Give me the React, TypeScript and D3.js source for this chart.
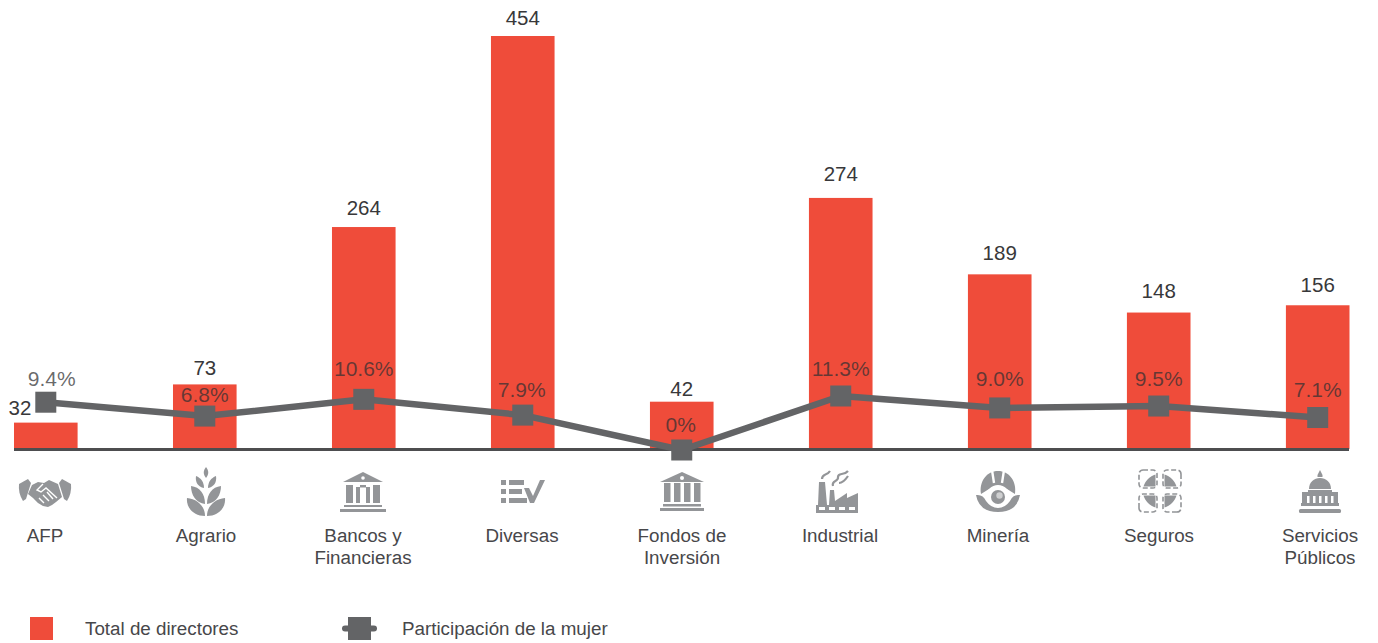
import React from 'react'
import * as d3 from 'd3'

const categories = ['AFP', 'Agrario', 'Bancos y Financieras', 'Diversas', 'Fondos de Inversión', 'Industrial', 'Minería', 'Seguros', 'Servicios Públicos']
const categoryLines = [['AFP'], ['Agrario'], ['Bancos y', 'Financieras'], ['Diversas'], ['Fondos de', 'Inversión'], ['Industrial'], ['Minería'], ['Seguros'], ['Servicios', 'Públicos']]

// printed labels
const directorLabels = [32, 73, 264, 454, 42, 274, 189, 148, 156]
const shareLabels = ['9.4%', '6.8%', '10.6%', '7.9%', '0%', '11.3%', '9.0%', '9.5%', '7.1%']
// what the picture actually draws, read against the tallest bar / the 0% point
const barLevels = [29, 71, 244, 454, 52, 276, 192, 150, 158]
const lineLevels = [10.0, 7.1, 10.6, 7.3, 0, 11.3, 8.8, 9.2, 6.8]

const RED = '#ef4c3a'
const GREY = '#636466'
const ICON = '#939598'
const TEXT = '#47474a'
const FONT = '"Liberation Sans", Arial, sans-serif'

const x = d3.scaleBand<string>().domain(categories).range([14, 1349.5]).paddingInner(0.6).paddingOuter(0)
const yBar = d3.scaleLinear().domain([0, 454]).range([449, 36])
const yLine = d3.scaleLinear().domain([0, 11.3]).range([450, 396])

const linePath = d3.line<number>()
  .x((_, i) => x(categories[i])! + x.bandwidth() / 2)
  .y(d => yLine(d))

// small layout nudges for labels, same order as categories
const valueDy = [0, -9, -12, -11, -6, -17, -14, -15, -13]
const shareDx = [6, 0, 0, -1, -1, 0, 0, 0, 0]
const shareDy = [-16, -14, -23, -18, -18, -20, -22, -20, -21]
const labelCx = [45, 206, 363, 522, 682, 840, 998, 1159, 1320]
const iconCx = [45, 206, 363, 522, 682, 837, 998, 1160, 1320]

const Handshake = () => (
  <g fill={ICON}>
    <path d="M-26,-7 L-17,-12 L-14,-8 L-19,8 L-22,10 Q-27,2 -26,-7Z" />
    <path d="M26,-7 L17,-12 L14,-8 L19,8 L22,10 Q27,2 26,-7Z" />
    <path d="M-13,-6 L-7,-9 L-1,-8 L4,-11 L13,-7 L17,6 L11,11 L7,14 L3,16 L-2,15 L-7,12 L-12,7 L-17,3Z" />
    <path d="M-2,-7 L-8,-1 L-4,1 L1,-3 L12,7 M-6,7 L-1,12 M-2,4 L4,10 M2,1 L8,8" fill="none" stroke="#fff" strokeWidth={1.4} />
  </g>
)

const Wheat = () => {
  const half = (
    <g>
      <path d="M-1,25 C-13,25 -20,16 -19,7 C-9,8 -1,15 -1,25Z" />
      <path d="M-1,13 C-10,12 -15,4 -15,-5 C-6,-4 -1,3 -1,13Z" />
      <path d="M-2,-3 C-8,-4 -11,-9 -10,-15 C-5,-13 -2,-9 -2,-3Z" />
    </g>
  )
  return (
    <g fill={ICON}>
      {half}
      <g transform="scale(-1,1)">{half}</g>
      <path d="M0,-24 C3,-20 3,-17 0,-13 C-3,-17 -3,-20 0,-24Z" />
    </g>
  )
}

const Bank = () => (
  <g fill={ICON}>
    <path d="M0,-19 L20,-9 L-20,-9Z" />
    <circle cy={-13} r={1.8} fill="#fff" />
    <rect x={-17} y={-6} width={7} height={18} />
    <rect x={-7} y={-4} width={4} height={16} />
    <rect x={-3} y={-6} width={6} height={2.5} />
    <rect x={3} y={-4} width={4} height={16} />
    <rect x={10} y={-6} width={7} height={18} />
    <rect x={-19} y={14} width={38} height={2} />
    <rect x={-23} y={18} width={46} height={3} />
  </g>
)

const Fund = () => (
  <g fill={ICON}>
    <path d="M0,-19 L22,-9 L-22,-9Z" />
    <circle cy={-13} r={2} fill="#fff" />
    {[-18, -8, 2, 12].map(c => <rect key={c} x={c} y={-8} width={6.5} height={19} />)}
    <rect x={-19} y={13} width={38} height={2.5} />
    <rect x={-22} y={17} width={44} height={3} />
  </g>
)

const ListCheck = () => (
  <g fill={ICON}>
    {[-11, -2, 7].map((r, i) => (
      <g key={r}>
        <rect x={-21} y={r} width={5} height={5} />
        <rect x={-13} y={r} width={i === 1 ? 13 : i === 0 ? 15 : 18} height={5} />
      </g>
    ))}
    <path d="M2,-3 L7,-3 L11,5 L18,-11 L23,-11 L12,12 L8,12Z" />
  </g>
)

const Factory = () => (
  <g fill={ICON}>
    <path d="M-21,14 L-19,14 L-18,-9 L-12,-9 L-10,14 L-8,14 L-7,-1 L-3,-1 L-2,10 L10,2 L10,7 L21,2 L21,22 L-21,22Z" />
    {[-18, -8, 2, 12].map(c => <rect key={c} x={c} y={16} width={6} height={3} fill="#fff" />)}
    <path d="M-15,-12 C-15,-18 -10,-15 -7,-20 M-4,-5 C-6,-11 2,-9 1,-14 C1,-19 7,-15 11,-20 M2,-8 C6,-8 9,-12 11,-15" fill="none" stroke={ICON} strokeWidth={2.2} />
  </g>
)

const Helmet = () => (
  <g fill={ICON}>
    <path d="M-17,3 C-19,-10 -11,-20 0,-20 C11,-20 19,-10 17,3 L9,-2 L-9,-2Z" />
    <path d="M-6,-21 L-4,-8 M6,-21 L4,-8" stroke="#fff" strokeWidth={2.4} />
    <circle cy={6} r={12} fill="#fff" />
    <circle cy={6} r={7} />
    <circle cx={1.5} cy={4.5} r={3.2} fill="#fff" opacity={0.55} />
    <path d="M-22,4 Q-15,3 -12,10 Q-7,17 0,17 Q7,17 12,10 Q15,3 22,4 Q19,21 0,21 Q-19,21 -22,4Z" />
  </g>
)

const Shield = () => (
  <g>
    {[0, 90, 180, 270].map(a => (
      <g key={a} transform={`rotate(${a})`}>
        <rect x={-21} y={-21} width={18} height={18} rx={4} fill="none" stroke={ICON} strokeWidth={1.6} strokeDasharray="5 2.5" />
        <path d="M-16.5,-4.5 C-15,-10 -10,-15 -4.5,-16.5 L-4.5,-4.5Z" fill={ICON} />
      </g>
    ))}
  </g>
)

const Capitol = () => (
  <g fill={ICON}>
    <path d="M0,-21 L2.5,-16 L2.5,-14 L-2.5,-14 L-2.5,-16Z" />
    <path d="M-11,-2 C-11,-9 -6,-13 0,-13 C6,-13 11,-9 11,-2Z" />
    <rect x={-12} y={-1} width={24} height={2} />
    <rect x={-18} y={1} width={36} height={14} />
    {[-13, -7, -1, 5, 11].map(c => <rect key={c} x={c} y={5} width={2.5} height={7} fill="#fff" />)}
    <rect x={-19} y={12} width={38} height={3} />
    <rect x={-21} y={18} width={42} height={4} rx={1.5} />
  </g>
)

const icons = [Handshake, Wheat, Bank, ListCheck, Fund, Factory, Helmet, Shield, Capitol]

export default function App() {
  return (
    <svg width={1378} height={643} style={{ position: 'absolute', left: 0, top: 0, display: 'block' }} fontFamily={FONT}>
      <rect width={1378} height={643} fill="#fff" />

      {barLevels.map((v, i) => (
        <rect key={categories[i]} x={x(categories[i])} y={yBar(v)} width={x.bandwidth()} height={yBar(0) - yBar(v)} fill={RED} />
      ))}

      <line x1={14} x2={1349} y1={449.5} y2={449.5} stroke="#4d4d4f" strokeWidth={3} />

      {/* total directors */}
      {directorLabels.map((v, i) => {
        const cx = x(categories[i])! + x.bandwidth() / 2
        const first = i === 0
        return (
          <text key={v} x={first ? 20 : cx} y={first ? 415 : yBar(barLevels[i]) + valueDy[i]} textAnchor="middle" fontSize={20.5} fill="#38383a">
            {v}
          </text>
        )
      })}

      <path d={linePath(lineLevels)!} fill="none" stroke={GREY} strokeWidth={6.5} strokeLinejoin="round" />
      {lineLevels.map((v, i) => (
        <rect key={categories[i]} x={x(categories[i])! + x.bandwidth() / 2 - 10.5} y={yLine(v) - 10.5} width={21} height={21} fill={GREY} />
      ))}

      {shareLabels.map((s, i) => (
        <text
          key={s}
          x={x(categories[i])! + x.bandwidth() / 2 + shareDx[i]}
          y={yLine(lineLevels[i]) + shareDy[i]}
          textAnchor="middle"
          fontSize={21}
          fill="#303032"
          fillOpacity={0.72}
        >
          {s}
        </text>
      ))}

      {icons.map((Icon, i) => (
        <g key={categories[i]} transform={`translate(${iconCx[i]},491)`}>
          <Icon />
        </g>
      ))}

      {categoryLines.map((lines, i) => (
        <text key={categories[i]} textAnchor="middle" fontSize={18.8} fill={TEXT}>
          {lines.map((l, j) => (
            <tspan key={l} x={labelCx[i]} y={542 + j * 22}>{l}</tspan>
          ))}
        </text>
      ))}

      {/* legend */}
      <rect x={30} y={617} width={23} height={23} fill={RED} />
      <text x={85} y={635} fontSize={18.8} fill={TEXT}>Total de directores</text>
      <line x1={345} x2={374} y1={628.5} y2={628.5} stroke={GREY} strokeWidth={6} strokeLinecap="round" />
      <rect x={348} y={617} width={23} height={23} fill={GREY} />
      <text x={402} y={635} fontSize={18.8} fill={TEXT}>Participación de la mujer</text>
    </svg>
  )
}
